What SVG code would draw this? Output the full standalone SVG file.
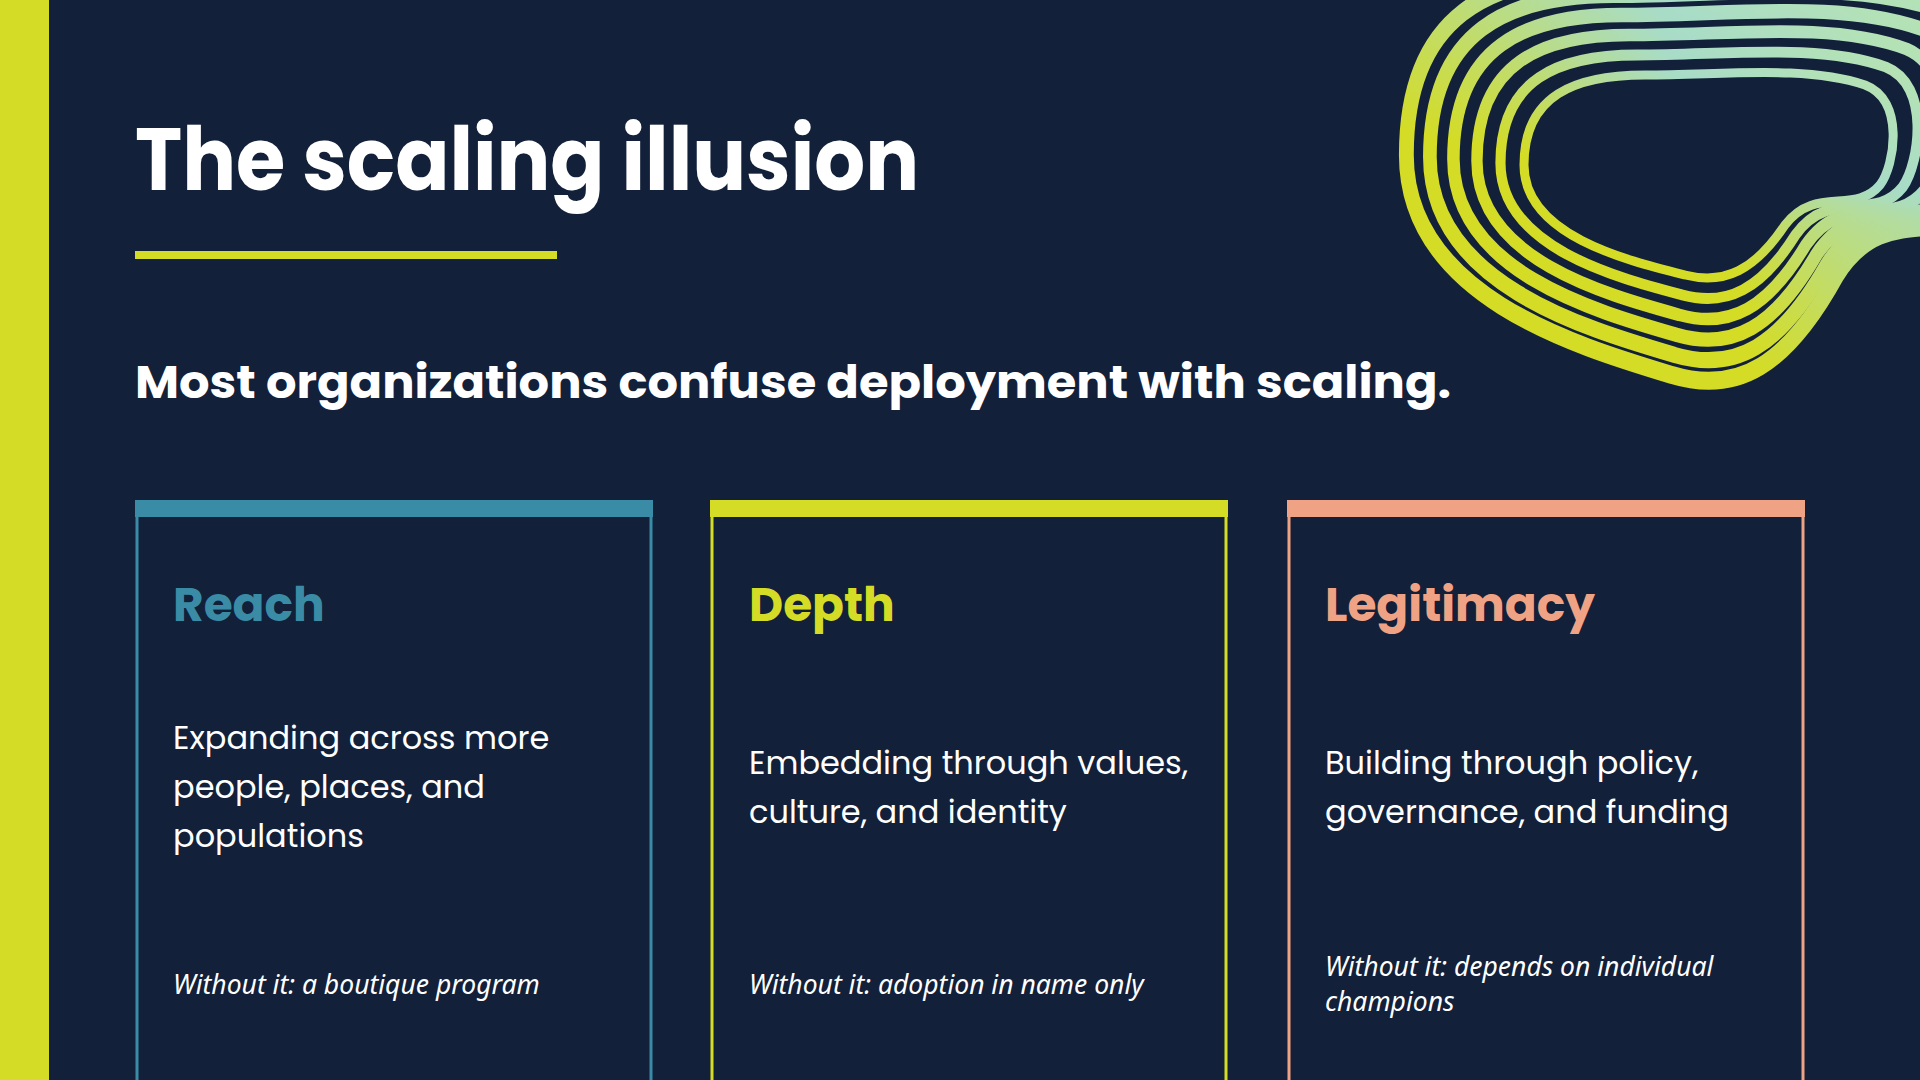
<svg xmlns="http://www.w3.org/2000/svg" width="1920" height="1080" viewBox="0 0 1920 1080">
<defs>
<linearGradient id="g" x1="0" y1="1" x2="1" y2="0">
<stop offset="0.3" stop-color="#d4dc25"/><stop offset="0.7" stop-color="#a8dcc8"/><stop offset="1" stop-color="#b8e4b0"/>
</linearGradient>
<path id="blob" d="M -181,-10 C -181,-80 -130,-100 -60,-100 C 20,-100 100,-110 160,-90 C 200,-75 190,-10 175,10 C 150,40 110,10 80,50 C 50,95 20,110 -20,100 C -80,85 -181,60 -181,-10 Z"/>
</defs>
<style>
.t{font-family:Poppins,"Inter","Noto Sans",sans-serif;font-weight:700;fill:#fff}
.h{font-family:Poppins,"Inter","Noto Sans",sans-serif;font-weight:700;font-size:47px}
.b{font-family:Poppins,"Inter","Noto Sans",sans-serif;font-size:32px;fill:#fff}
.i{font-family:"Noto Sans",sans-serif;font-style:italic;font-size:26.5px;fill:#fff}
.loop{fill:none;stroke:url(#g);stroke-width:9;vector-effect:non-scaling-stroke}
</style>
<rect width="1920" height="1080" fill="#12203a"/>
<rect x="0" y="0" width="49" height="1080" fill="#d4dc25"/>
<g id="deco" transform="translate(1705,175)">
<use href="#blob" class="loop" transform="scale(1.0,1.0)"/>
<use href="#blob" class="loop" transform="scale(1.13,1.2)"/>
<use href="#blob" class="loop" transform="scale(1.26,1.4)"/>
<use href="#blob" class="loop" transform="scale(1.39,1.6)"/>
<use href="#blob" class="loop" transform="scale(1.52,1.8)"/>
<use href="#blob" class="loop" transform="scale(1.65,2.0)"/>
</g>
<g id="title">
<text class="t" x="135" y="190" font-size="88" textLength="784" lengthAdjust="spacingAndGlyphs">The scaling illusion</text>
<rect x="135" y="251" width="422" height="8" fill="#d4dc25"/>
<text class="t" x="135" y="398" font-size="45" textLength="1316" lengthAdjust="spacingAndGlyphs">Most organizations confuse deployment with scaling.</text>
</g>
<g id="reach">
<rect x="137" y="506" width="514" height="580" fill="none" stroke="#3a8ba5" stroke-width="3"/>
<rect x="135" y="500" width="518" height="17" fill="#3a8ba5"/>
<text class="h" x="173" y="621" fill="#3a8ba5">Reach</text>
<text class="b" x="173" y="749">Expanding across more</text>
<text class="b" x="173" y="798">people, places, and</text>
<text class="b" x="173" y="847">populations</text>
<text class="i" x="173" y="994">Without it: a boutique program</text>
</g>
<g id="depth">
<rect x="712" y="506" width="514" height="580" fill="none" stroke="#d4dc25" stroke-width="3"/>
<rect x="710" y="500" width="518" height="17" fill="#d4dc25"/>
<text class="h" x="749" y="621" fill="#d4dc25">Depth</text>
<text class="b" x="749" y="774">Embedding through values,</text>
<text class="b" x="749" y="823">culture, and identity</text>
<text class="i" x="749" y="994">Without it: adoption in name only</text>
</g>
<g id="legitimacy">
<rect x="1289" y="506" width="514" height="580" fill="none" stroke="#f0a384" stroke-width="3"/>
<rect x="1287" y="500" width="518" height="17" fill="#f0a384"/>
<text class="h" x="1325" y="621" fill="#f0a384">Legitimacy</text>
<text class="b" x="1325" y="774">Building through policy,</text>
<text class="b" x="1325" y="823">governance, and funding</text>
<text class="i" x="1325" y="976">Without it: depends on individual</text>
<text class="i" x="1325" y="1011">champions</text>
</g>
</svg>
